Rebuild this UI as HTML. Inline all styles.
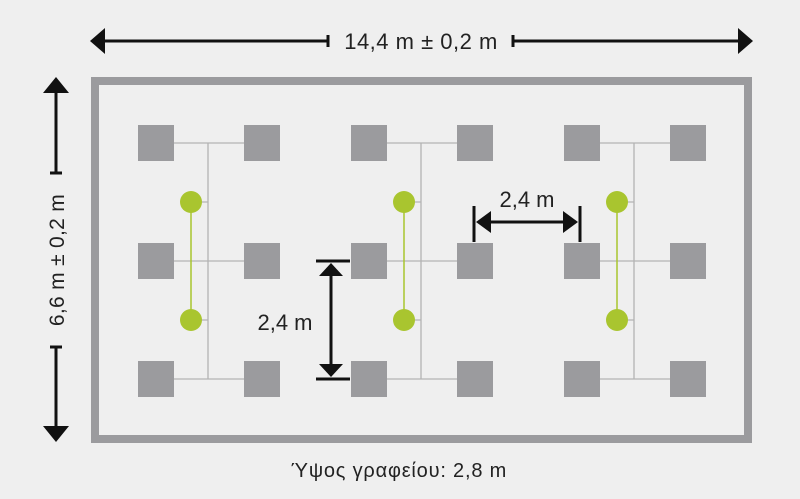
<!DOCTYPE html>
<html><head><meta charset="utf-8"><style>
html,body{margin:0;padding:0;background:#efefef;}
svg{display:block}
text{font-family:"Liberation Sans","DejaVu Sans",sans-serif;fill:#222;}
</style></head><body>
<svg width="800" height="499" viewBox="0 0 800 499" xmlns="http://www.w3.org/2000/svg">
<rect width="800" height="499" fill="#efefef"/>
<rect x="95" y="81" width="653" height="358" fill="none" stroke="#9b9b9e" stroke-width="8"/>
<g stroke="#b3b3b3" stroke-width="1.3" fill="none">
<path d="M174 143H244M174 261H244M174 379H244M208 143V379"/>
<path d="M387 143H457M387 261H457M387 379H457M421 143V379"/>
<path d="M600 143H670M600 261H670M600 379H670M634 143V379"/>
<path d="M191 202H208M191 320H208M404 202H421M404 320H421M617 202H634M617 320H634"/>
</g>
<g stroke="#a9c52f" stroke-width="1.5">
<path d="M191 202V320M404 202V320M617 202V320"/>
</g>
<g fill="#a9c52f">
<circle cx="191" cy="202" r="11"/><circle cx="191" cy="320" r="11"/>
<circle cx="404" cy="202" r="11"/><circle cx="404" cy="320" r="11"/>
<circle cx="617" cy="202" r="11"/><circle cx="617" cy="320" r="11"/>
</g>
<g fill="#9b9b9e">
<rect x="138" y="125" width="36" height="36"/><rect x="244" y="125" width="36" height="36"/>
<rect x="351" y="125" width="36" height="36"/><rect x="457" y="125" width="36" height="36"/>
<rect x="564" y="125" width="36" height="36"/><rect x="670" y="125" width="36" height="36"/>
<rect x="138" y="243" width="36" height="36"/><rect x="244" y="243" width="36" height="36"/>
<rect x="351" y="243" width="36" height="36"/><rect x="457" y="243" width="36" height="36"/>
<rect x="564" y="243" width="36" height="36"/><rect x="670" y="243" width="36" height="36"/>
<rect x="138" y="361" width="36" height="36"/><rect x="244" y="361" width="36" height="36"/>
<rect x="351" y="361" width="36" height="36"/><rect x="457" y="361" width="36" height="36"/>
<rect x="564" y="361" width="36" height="36"/><rect x="670" y="361" width="36" height="36"/>
</g>
<g stroke="#111" stroke-width="3" fill="none">
<path d="M100 41H328M328 35V47M513 41H740M513 35V47"/>
<path d="M56 90V173M50 173H62M56 347V430M50 347H62"/>
<path d="M478 222H576M474 206V242M580 206V242"/>
<path d="M331 272V368M316 261H350M316 379H350"/>
</g>
<g fill="#111">
<polygon points="90,41 105,28 105,54"/>
<polygon points="753,41 738,28 738,54"/>
<polygon points="56,77 43,93 69,93"/>
<polygon points="56,442 43,426 69,426"/>
<polygon points="476,222 491,211 491,233"/>
<polygon points="578,222 563,211 563,233"/>
<polygon points="331,263 319,276 343,276"/>
<polygon points="331,377 319,364 343,364"/>
</g>
<text x="421" y="49" font-size="22" letter-spacing="0.5" text-anchor="middle">14,4 m ± 0,2 m</text>
<text x="0" y="0" font-size="21" letter-spacing="0.3" text-anchor="middle" transform="translate(64,260) rotate(-90)">6,6 m ± 0,2 m</text>
<text x="527" y="207" font-size="22" text-anchor="middle">2,4 m</text>
<text x="285" y="330" font-size="22" text-anchor="middle">2,4 m</text>
<text x="399" y="477" font-size="20" letter-spacing="0.8" text-anchor="middle">Ύψος γραφείου: 2,8 m</text>
</svg>
</body></html>
